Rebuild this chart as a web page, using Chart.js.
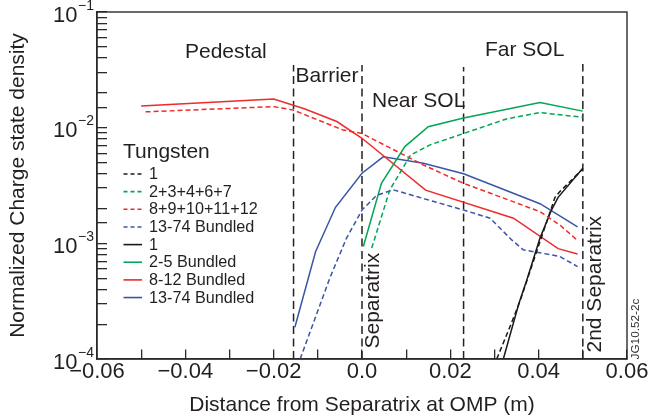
<!DOCTYPE html>
<html><head><meta charset="utf-8">
<script src="https://cdn.jsdelivr.net/npm/chart.js@4.4.1/dist/chart.umd.min.js"></script>
<style>html,body{margin:0;padding:0;background:#fff}#wrap{width:662px;height:418px}</style>
</head><body><div id="wrap"><canvas id="c" width="662" height="418"></canvas></div>
<script>
// ---------- data ----------
const seriesLabels = ['1', '2+3+4+6+7', '8+9+10+11+12', '13-74 Bundled', '1', '2-5 Bundled', '8-12 Bundled', '13-74 Bundled'];

const w1DashX = [0.0305, 0.0335, 0.0357, 0.0388, 0.0437, 0.0448, 0.0500];
const w1DashY = [1.0e-4, 1.9e-4, 3.1e-4, 7.0e-4, 2.5e-3, 2.8e-3, 4.4e-3];

const w2to7DashX = [0.0022, 0.0063, 0.0110, 0.0154, 0.0230, 0.0327, 0.0403, 0.0500];
const w2to7DashY = [9.1e-4, 2.9e-3, 5.8e-3, 7.1e-3, 8.9e-3, 1.19e-2, 1.35e-2, 1.23e-2];

const w8to12DashX = [-0.049, -0.020, -0.0156, -0.0043, 0.000, 0.0139, 0.0230, 0.0403, 0.0448, 0.0488];
const w8to12DashY = [1.37e-2, 1.52e-2, 1.42e-2, 9.55e-3, 8.9e-3, 4.76e-3, 3.3e-3, 1.88e-3, 1.44e-3, 1.06e-3];

const w13to74DashX = [-0.0140, -0.0073, -0.0035, 0.000, 0.0033, 0.0071, 0.0230, 0.0290, 0.0339, 0.0365, 0.0448, 0.0488];
const w13to74DashY = [1.0e-4, 5.0e-4, 1.11e-3, 1.94e-3, 2.6e-3, 2.9e-3, 1.94e-3, 1.65e-3, 1.07e-3, 8.8e-4, 7.7e-4, 6.3e-4];

const w1SolidX = [0.0320, 0.0355, 0.0373, 0.0403, 0.0429, 0.0444, 0.0500];
const w1SolidY = [1.0e-4, 3.0e-4, 4.8e-4, 1.11e-3, 1.94e-3, 2.5e-3, 4.45e-3];

const w2to5SolidX = [0.0003, 0.0044, 0.0097, 0.0150, 0.0230, 0.0403, 0.0500];
const w2to5SolidY = [9.4e-4, 3.3e-3, 6.86e-3, 1.02e-2, 1.21e-2, 1.65e-2, 1.39e-2];

const w8to12SolidX = [-0.050, -0.020, -0.0129, -0.0057, 0.000, 0.0144, 0.0343, 0.0444, 0.0488];
const w8to12SolidY = [1.54e-2, 1.77e-2, 1.45e-2, 1.13e-2, 8.1e-3, 2.88e-3, 1.65e-3, 9.0e-4, 8.1e-4];

const w13to74SolidX = [-0.0152, -0.0105, -0.0060, 0.000, 0.0048, 0.0139, 0.0230, 0.0403, 0.0488];
const w13to74SolidY = [1.88e-4, 8.5e-4, 2.05e-3, 4.04e-3, 5.6e-3, 4.92e-3, 4.0e-3, 2.2e-3, 1.39e-3];

// region boundaries (dashed vertical lines)
const boundaryX = [-0.0155, 0.0, 0.023, 0.050];
const boundaryTop = [0.0348, 0.0348, 0.0335, 0.0356];
const boundaryBottom = 1e-4;

const regionNames = ['Pedestal', 'Barrier', 'Near SOL', 'Far SOL'];
const rotatedNames = ['Separatrix', '2nd Separatrix'];
const legendTitle = 'Tungsten';
const figureId = 'JG10.52-2c';

const xTickLabels = ['\u22120.06', '\u22120.04', '\u22120.02', '0.0', '0.02', '0.04', '0.06'];
const yTickValues = [1e-4, 1e-3, 1e-2, 1e-1];
const yTickBase = '10';
const yTickExponents = ['\u22124', '\u22123', '\u22122', '\u22121'];
const xTitle = 'Distance from Separatrix at OMP (m)';
const yTitle = 'Normalized Charge state density';

// ---------- styles ----------
const FONT = '"Liberation Sans", Arial, Helvetica, sans-serif';
const TXT = '#231f20';
const AX = '#2b2b2b';
const C_BLACK = '#1a1a1a', C_GREEN = '#00a651', C_RED = '#ee2a2a', C_BLUE = '#3a55a5';
const DASH = [5, 3];

const pts = (xs, ys) => xs.map((x, i) => ({ x: x, y: ys[i] }));
function series(label, xs, ys, color, dashed) {
  return { label: label, data: pts(xs, ys), borderColor: color, backgroundColor: color,
    borderWidth: 1.5, borderDash: dashed ? DASH : [], pointRadius: 0, tension: 0, fill: false };
}
const datasets = [
  series(seriesLabels[0], w1DashX, w1DashY, C_BLACK, true),
  series(seriesLabels[1], w2to7DashX, w2to7DashY, C_GREEN, true),
  series(seriesLabels[2], w8to12DashX, w8to12DashY, C_RED, true),
  series(seriesLabels[3], w13to74DashX, w13to74DashY, C_BLUE, true),
  series(seriesLabels[4], w1SolidX, w1SolidY, C_BLACK, false),
  series(seriesLabels[5], w2to5SolidX, w2to5SolidY, C_GREEN, false),
  series(seriesLabels[6], w8to12SolidX, w8to12SolidY, C_RED, false),
  series(seriesLabels[7], w13to74SolidX, w13to74SolidY, C_BLUE, false)
];
const nSeries = datasets.length;
boundaryX.forEach((bx, i) => {
  datasets.push({ label: 'boundary', data: [{ x: bx, y: boundaryBottom }, { x: bx, y: boundaryTop[i] }],
    borderColor: '#222', borderWidth: 1.5, borderDash: [8, 4.5], pointRadius: 0, fill: false });
});

// ---------- frame + text plugin ----------
const decor = {
  id: 'decor',
  afterDraw(chart) {
    const ctx = chart.ctx, a = chart.chartArea, ys = chart.scales.y;
    ctx.save();
    ctx.strokeStyle = AX; ctx.lineWidth = 1.4; ctx.setLineDash([]);
    ctx.strokeRect(a.left, a.top, a.right - a.left, a.bottom - a.top);
    ctx.fillStyle = TXT;
    yTickValues.forEach((v, i) => {
      const py = ys.getPixelForValue(v);
      ctx.font = '22px ' + FONT; ctx.textAlign = 'right'; ctx.textBaseline = 'alphabetic';
      ctx.fillText(yTickBase, a.left - 19.5, py + 9.8);
      ctx.font = '14px ' + FONT; ctx.textAlign = 'left';
      ctx.fillText(yTickExponents[i], a.left - 19, py - 2.5);
    });
    ctx.font = '21px ' + FONT; ctx.textAlign = 'left'; ctx.textBaseline = 'alphabetic';
    const regionPos = [[185, 58], [295.5, 82], [372, 107], [485, 55.5]];
    regionNames.forEach((t, i) => ctx.fillText(t, regionPos[i][0], regionPos[i][1]));
    const rotPos = [[378.5, 348.5], [600.5, 352.5]];
    rotatedNames.forEach((t, i) => {
      ctx.save(); ctx.translate(rotPos[i][0], rotPos[i][1]); ctx.rotate(-Math.PI / 2);
      ctx.fillText(t, 0, 0); ctx.restore();
    });
    ctx.save(); ctx.font = '11.8px ' + FONT; ctx.fillStyle = '#333';
    ctx.translate(638.5, 359.5); ctx.rotate(-Math.PI / 2); ctx.fillText(figureId, 0, 0); ctx.restore();
    ctx.font = '21px ' + FONT; ctx.textBaseline = 'middle';
    ctx.fillText(legendTitle, 123, 152.5);
    ctx.font = '16.2px ' + FONT;
    chart.data.datasets.slice(0, nSeries).forEach((d, i) => {
      const y = 174 + i * 17.65;
      ctx.strokeStyle = d.borderColor; ctx.lineWidth = 1.6;
      ctx.setLineDash(d.borderDash.length ? [4, 3] : []);
      ctx.beginPath(); ctx.moveTo(123.5, y); ctx.lineTo(142, y); ctx.stroke();
      ctx.setLineDash([]);
      ctx.fillStyle = TXT; ctx.fillText(d.label, 149, y + 0.5);
    });
    ctx.restore();
  }
};

new Chart(document.getElementById('c'), {
  type: 'line',
  data: { datasets: datasets },
  options: {
    responsive: false, animation: false, devicePixelRatio: 1,
    layout: { padding: { top: 12, right: 35, left: 0, bottom: 0 } },
    plugins: { legend: { display: false }, tooltip: { enabled: false } },
    scales: {
      x: {
        type: 'linear', position: 'bottom', min: -0.06, max: 0.06,
        grid: { display: true, drawOnChartArea: false, drawTicks: true, tickLength: -9.5, color: AX, lineWidth: 1.3 },
        border: { display: true, color: AX, width: 1.4 },
        ticks: { stepSize: 0.01, padding: 9.5, color: TXT, font: { family: FONT, size: 22 }, maxRotation: 0, autoSkip: false,
          callback: (v, i) => (i % 2 === 0 ? xTickLabels[i / 2] : '') },
        title: { display: true, text: xTitle, color: TXT, font: { family: FONT, size: 21 }, padding: { top: 0, bottom: 0 } },
        afterFit: s => { s.height = 59; }
      },
      y: {
        type: 'logarithmic', position: 'left', min: 1e-4, max: 1e-1,
        grid: { display: true, drawOnChartArea: false, drawTicks: true, tickLength: -10, color: AX, lineWidth: 1.3 },
        border: { display: true, color: AX, width: 1.4 },
        ticks: { display: false },
        title: { display: true, text: yTitle, color: TXT, font: { family: FONT, size: 21 }, padding: { top: 6, bottom: 0 } },
        afterFit: s => { s.width = 97; }
      }
    }
  },
  plugins: [decor]
});
</script></body></html>
